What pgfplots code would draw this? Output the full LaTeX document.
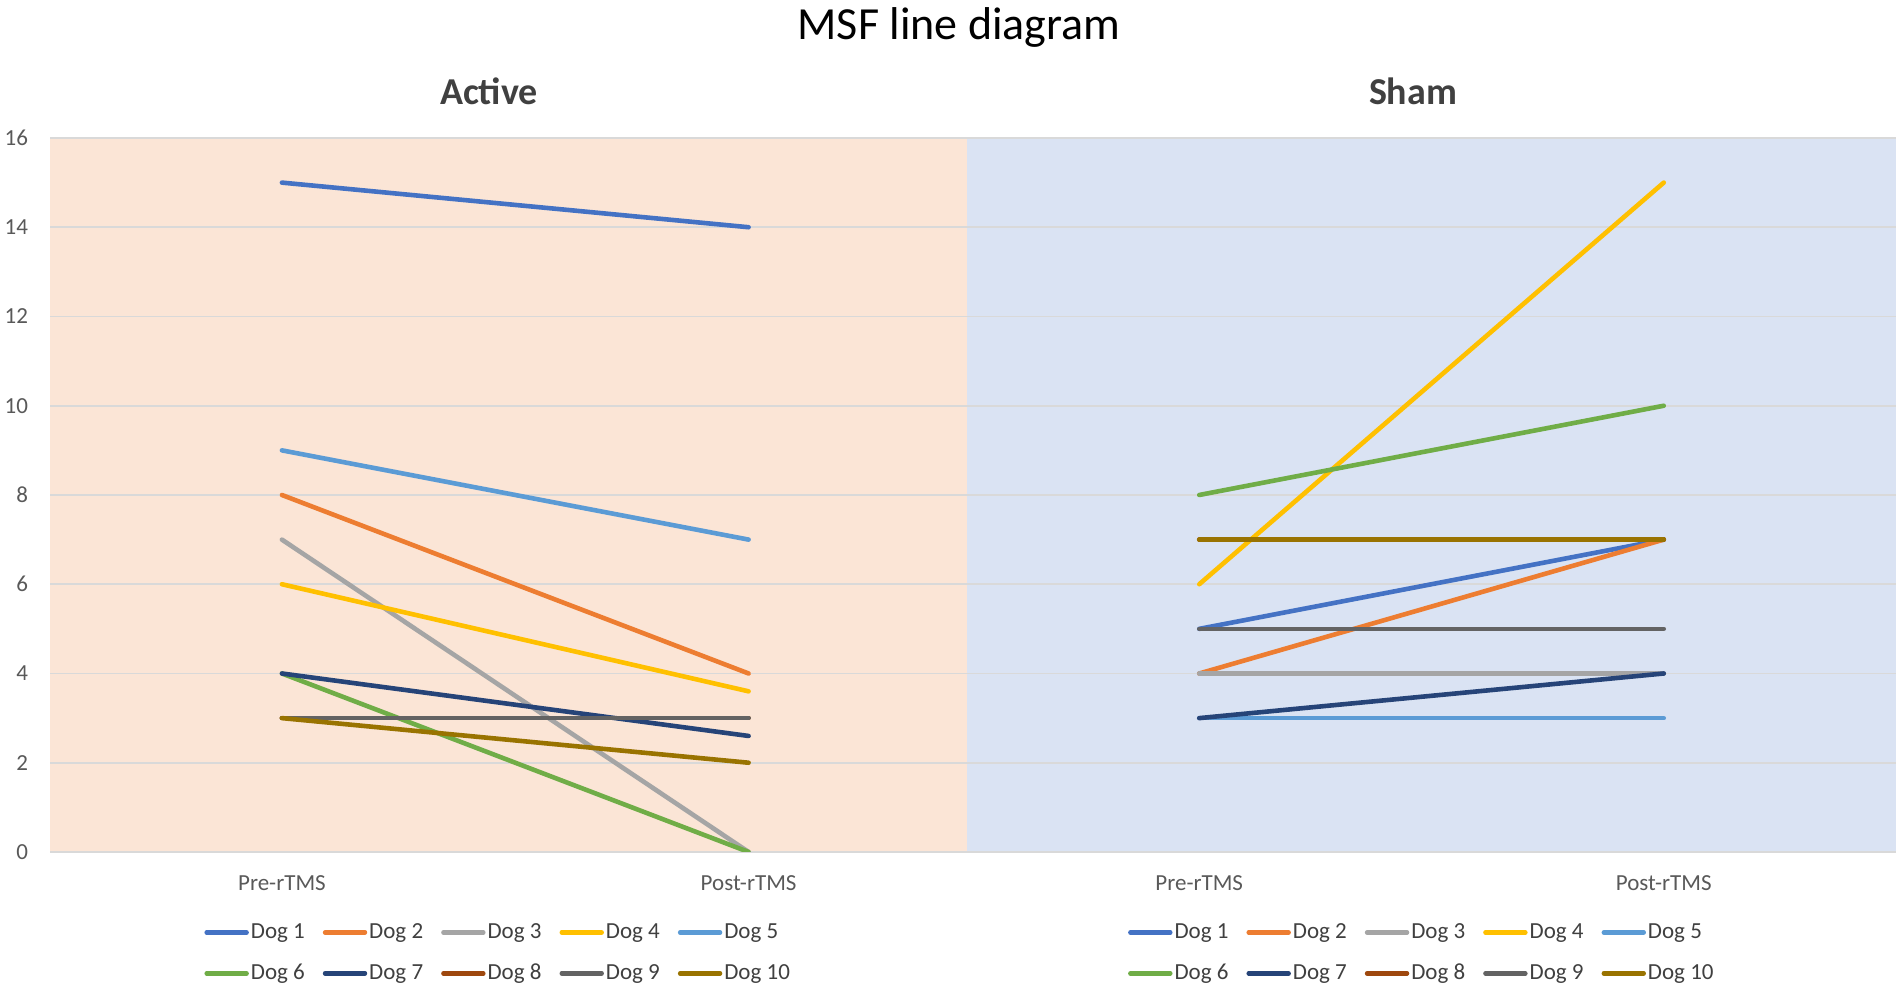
\documentclass[border=0pt]{standalone}
\usepackage{fontspec}
\setmainfont{Carlito}
\usepackage{pgfplots}
\pgfplotsset{compat=1.18}
\definecolor{cA}{HTML}{4472C4}
\definecolor{cB}{HTML}{ED7D31}
\definecolor{cC}{HTML}{A5A5A5}
\definecolor{cD}{HTML}{FFC000}
\definecolor{cE}{HTML}{5B9BD5}
\definecolor{cF}{HTML}{70AD47}
\definecolor{cG}{HTML}{264478}
\definecolor{cH}{HTML}{9E480E}
\definecolor{cI}{HTML}{636363}
\definecolor{cJ}{HTML}{997300}
\definecolor{peach}{HTML}{FBE5D6}
\definecolor{paleblue}{HTML}{DAE3F3}
\definecolor{gridc}{HTML}{D9D9D9}
\definecolor{tickc}{HTML}{595959}
\definecolor{subc}{HTML}{404040}
\pgfplotscreateplotcyclelist{dogs}{
{cA},{cB},{cC},{cD},{cE},{cF},{cG},{cH},{cI},{cJ}}
\pgfplotsset{
  panel/.style={
    scale only axis, height=357pt,
    ymin=0, ymax=16, ytick={0,2,...,16},
    xtick={0,1}, xticklabels={Pre-rTMS,Post-rTMS},
    ymajorgrids, grid style={color=gridc, line width=0.9pt},
    axis line style={draw=none}, major tick length=0pt,
    tick label style={font=\fontsize{11.5}{13}\selectfont, color=tickc},
    /pgf/number format/assume math mode=true,
    xticklabel style={anchor=center, yshift=-15.5pt},
    cycle list name=dogs,
    every axis plot/.append style={line width=2.3pt, line cap=round, mark=none},
    legend columns=5,
    legend cell align=left,
    legend image code/.code={\draw[#1, line width=2.2pt, line cap=round] (0pt,0pt) -- (20pt,0pt);},
    legend style={draw=none, fill=none, anchor=north west, inner sep=0pt,
      font=\fontsize{11.5}{13}\selectfont, text=subc,
      nodes={inner xsep=1pt, inner ysep=2pt},
      row sep=7.3pt,
      /tikz/every even column/.append style={column sep=8pt}},
  }
}
\begin{document}
\begin{tikzpicture}[x=1pt,y=1pt]
\useasboundingbox (0,0) rectangle (951,494);
\begin{axis}[panel, at={(25pt,68pt)}, anchor=south west, width=458.5pt,
  xmin=-0.497, xmax=1.468,
  axis background/.style={fill=peach},
  yticklabel style={xshift=-7.5pt},
  legend style={at={(axis description cs:0.168,-0.094)}}]
\addplot coordinates {(0,15) (1,14)};
\addplot coordinates {(0,8) (1,4)};
\addplot coordinates {(0,7) (1,0)};
\addplot coordinates {(0,6) (1,3.6)};
\addplot coordinates {(0,9) (1,7)};
\addplot coordinates {(0,4) (1,0)};
\addplot coordinates {(0,4) (1,2.6)};
\addplot coordinates {(0,3) (1,3)};
\addplot coordinates {(0,3) (1,3)};
\addplot coordinates {(0,3) (1,2)};
\legend{Dog 1,Dog 2,Dog 3,Dog 4,Dog 5,Dog 6,Dog 7,Dog 8,Dog 9,Dog 10}
\end{axis}
\begin{axis}[panel, at={(483.5pt,68pt)}, anchor=south west, width=464.5pt,
  xmin=-0.5, xmax=1.5,
  axis background/.style={fill=paleblue},
  yticklabels={},
  legend style={at={(axis description cs:0.173,-0.094)}}]
\addplot coordinates {(0,5) (1,7)};
\addplot coordinates {(0,4) (1,7)};
\addplot coordinates {(0,4) (1,4)};
\addplot coordinates {(0,6) (1,15)};
\addplot coordinates {(0,3) (1,3)};
\addplot coordinates {(0,8) (1,10)};
\addplot coordinates {(0,3) (1,4)};
\addplot coordinates {(0,7) (1,7)};
\addplot coordinates {(0,5) (1,5)};
\addplot coordinates {(0,7) (1,7)};
\legend{Dog 1,Dog 2,Dog 3,Dog 4,Dog 5,Dog 6,Dog 7,Dog 8,Dog 9,Dog 10}
\end{axis}
\node[font=\fontsize{23}{26}\selectfont] at (479.5,480) {MSF line diagram};
\node[font=\bfseries\fontsize{19}{22}\selectfont, text=subc] at (244.5,448.5) {Active};
\node[font=\bfseries\fontsize{19}{22}\selectfont, text=subc] at (706.5,448.5) {Sham};
\end{tikzpicture}
\end{document}
